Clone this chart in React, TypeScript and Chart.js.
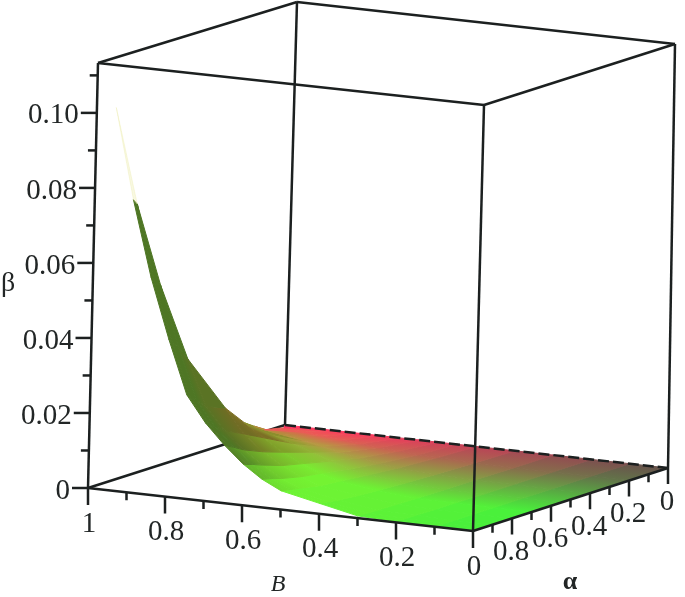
import React, { useEffect, useRef } from "react";
import Chart from "chart.js/auto";

// ---- data ----
const bColumns = [0, 0.1, 0.2, 0.3, 0.4, 0.5, 0.55, 0.6, 0.65, 0.7, 0.75, 0.8, 0.85, 0.9, 0.95, 1];
const alphaRows = [0, 0.2, 0.4, 0.55, 0.7, 0.8, 0.9, 0.95, 0.98, 1];
const betaRow000 = [0, 0, 0, 0, 0, 0, 0, 0, 0, 0, 0, 0, 0, 0, 0, 0];
const betaRow020 = [0, 0, 0, 0, 0.0002, 0.0004, 0.0006, 0.001, 0.0014, 0.0018, 0.0022, 0.0027, 0.0032, 0.0038];
const betaRow040 = [0, 0, 0, 0.0001, 0.0005, 0.001, 0.0016, 0.0025, 0.0035, 0.0045, 0.0055, 0.0064, 0.0072];
const betaRow055 = [0, 0, 0, 0.0001, 0.0008, 0.0017, 0.0027, 0.0042, 0.006, 0.0078, 0.0095, 0.0112];
const betaRow070 = [0, 0, 0.0001, 0.0002, 0.0012, 0.0025, 0.004, 0.006, 0.0085, 0.0118, 0.0152];
const betaRow080 = [0, 0, 0.0001, 0.0003, 0.0015, 0.003, 0.0048, 0.0072, 0.0103, 0.0145, 0.0208];
const betaRow090 = [0, 0, 0.0002, 0.0004, 0.002, 0.004, 0.006, 0.009, 0.0125, 0.017, 0.023, 0.035];
const betaRow095 = [0, 0, 0.0002, 0.0005, 0.0024, 0.0045, 0.0068, 0.01, 0.014, 0.019, 0.0255, 0.039, 0.055];
const betaRow098 = [0, 0, 0.0002, 0.0006, 0.0026, 0.0048, 0.0072, 0.0105, 0.0148, 0.02, 0.0266, 0.0405, 0.056, 0.0765];
const betaRow100 = [0, 0, 0.0002, 0.0006, 0.0028, 0.005, 0.0075, 0.011, 0.0155, 0.0208, 0.0277, 0.042, 0.058, 0.078, 0.102];
const betaRows = [betaRow000, betaRow020, betaRow040, betaRow055, betaRow070, betaRow080, betaRow090, betaRow095, betaRow098, betaRow100];

const betaMajor = [0, 0.02, 0.04, 0.06, 0.08, 0.1];
const betaMajorLabels = ["0", "0.02", "0.04", "0.06", "0.08", "0.10"];
const betaMinor = [0.01, 0.03, 0.05, 0.07, 0.09, 0.11];
const bMajor = [1, 0.8, 0.6, 0.4, 0.2, 0];
const bMajorLabels = ["1", "0.8", "0.6", "0.4", "0.2", "0"];
const bMinor = [0.9, 0.7, 0.5, 0.3, 0.1];
const alphaMajor = [0, 0.2, 0.4, 0.6, 0.8];
const alphaMajorLabels = ["0", "0.2", "0.4", "0.6", "0.8"];
const alphaMinor = [0.1, 0.3, 0.5, 0.7, 0.9];
const betaTop = 0.1133;

// ---- camera: the box corners on the page ----
const cam = {
  b11: [88, 488], t11: [98, 63],     // B=1, alpha=1
  b01: [473, 531], t01: [484, 105],  // B=0, alpha=1
  b00: [668, 468], t00: [675, 44],   // B=0, alpha=0
  b10: [285, 425], t10: [297, 2],    // B=1, alpha=0
};
type P = { x: number; y: number };
function project(B: number, al: number, be: number): P {
  const w = be / betaTop;
  const f = (i: number) => {
    const bottom =
      cam.b11[i] * B * al + cam.b01[i] * (1 - B) * al + cam.b00[i] * (1 - B) * (1 - al) + cam.b10[i] * B * (1 - al);
    const top =
      cam.t11[i] * B * al + cam.t01[i] * (1 - B) * al + cam.t00[i] * (1 - B) * (1 - al) + cam.t10[i] * B * (1 - al);
    return bottom + (top - bottom) * w;
  };
  return { x: f(0), y: f(1) };
}

const mix = (a: number, b: number, t: number) => a + (b - a) * t;
const clamp01 = (v: number) => Math.min(1, Math.max(0, v));
type RGBA = [number, number, number, number];
function surfaceColor(B: number, al: number, be: number): RGBA {
  const k = Math.min(1, B / 0.8);
  const g = clamp01((al - 0.08) / 0.62);
  let r = mix(mix(95, 255, k), mix(70, 140, k), g);
  let gr = mix(mix(85, 55, k), mix(240, 245, k), g);
  let bl = mix(mix(75, 95, k), mix(60, 45, k), g);
  const t = clamp01((be - 0.0045) / 0.0095);
  const dark = clamp01((al - 0.75) / 0.2);
  r = mix(r, mix(125, 78, dark), t);
  gr = mix(gr, mix(105, 118, dark), t);
  bl = mix(bl, 36, t);
  if (be > 0.08) return [235, 235, 170, 0.35];
  return [r, gr, bl, 1];
}
const css = (c: RGBA) => `rgba(${Math.round(c[0])},${Math.round(c[1])},${Math.round(c[2])},${c[3]})`;

function gradientFill(from: P, to: P, c0: RGBA, c1: RGBA) {
  return (ctx: any) => {
    // The hidden axes span the whole canvas, one unit to one pixel.
    const g = ctx.chart.ctx.createLinearGradient(from.x, from.y, to.x, to.y);
    g.addColorStop(0, css(c0));
    g.addColorStop(1, css(c1));
    return g;
  };
}

// The gradient axis is set square to the row edge, so that neighbouring cells meet with the same shade.
function squareTo(a: P, b: P, from: P, to: P): P {
  const ex = b.x - a.x, ey = b.y - a.y;
  const len = Math.hypot(ex, ey) || 1;
  const nx = -ey / len, ny = ex / len;
  const d = (to.x - from.x) * nx + (to.y - from.y) * ny;
  return { x: from.x + nx * d, y: from.y + ny * d };
}

function buildSurface(): any[] {
  const out: any[] = [];
  const patch = (pts: P[], from: P, to: P, c0: RGBA, c1: RGBA) => {
    const fill = gradientFill(from, to, c0, c1);
    out.push({
      data: [...pts, pts[0]],
      showLine: true,
      fill: "shape",
      backgroundColor: fill,
      borderColor: fill,
      borderWidth: 1,
      pointRadius: 0,
      order: 50,
    });
  };
  for (let j = 0; j < alphaRows.length - 1; j++) {
    const a0 = alphaRows[j], a1 = alphaRows[j + 1];
    const r0 = betaRows[j], r1 = betaRows[j + 1];
    const shared = Math.min(r0.length, r1.length);
    const v0 = (i: number) => project(bColumns[i], a0, r0[i]);
    const v1 = (i: number) => project(bColumns[i], a1, r1[i]);
    const longer = r0.length > r1.length ? v0 : v1;
    const longRow = r0.length > r1.length ? r0 : r1;
    const longA = r0.length > r1.length ? a0 : a1;
    const apex = r0.length > r1.length ? v1(shared - 1) : v0(shared - 1);
    for (let i = longRow.length - 2; i >= shared - 1; i--) {
      const bm = (bColumns[i] + bColumns[i + 1]) / 2;
      const be = (longRow[i] + longRow[i + 1]) / 2;
      const c = surfaceColor(bm, longA, be);
      patch([apex, longer(i), longer(i + 1)], apex, longer(i), c, c);
    }
    for (let i = shared - 2; i >= 0; i--) {
      const bm = (bColumns[i] + bColumns[i + 1]) / 2;
      const from = project(bm, a0, (r0[i] + r0[i + 1]) / 2);
      const to = project(bm, a1, (r1[i] + r1[i + 1]) / 2);
      const c0 = surfaceColor(bm, a0, (r0[i] + r0[i + 1]) / 2);
      const c1 = surfaceColor(bm, a1, (r1[i] + r1[i + 1]) / 2);
      patch([v0(i), v0(i + 1), v1(i + 1), v1(i)], from, squareTo(v0(i), v0(i + 1), from, to), c0, c1);
    }
  }
  return out;
}

function seg(a: P, b: P, order: number, dash?: number[]) {
  return {
    data: [a, b],
    showLine: true,
    fill: false,
    borderColor: "#1c2020",
    borderWidth: 2.5,
    borderDash: dash ?? [],
    pointRadius: 0,
    order,
  };
}

function buildFrame(): any[] {
  const BACK = 90, FRONT = 5;
  const c = (B: number, al: number, top: boolean) => project(B, al, top ? betaTop : 0);
  const out = [
    seg(c(1, 0, false), c(1, 1, false), BACK),
    seg(c(1, 0, false), c(0, 0, false), FRONT, [11, 4]),
    seg(c(1, 0, false), c(1, 0, true), BACK),
    seg(c(1, 1, false), c(0, 1, false), FRONT),
    seg(c(0, 1, false), c(0, 0, false), FRONT),
    seg(c(1, 1, false), c(1, 1, true), BACK),
    seg(c(0, 1, false), c(0, 1, true), FRONT),
    seg(c(0, 0, false), c(0, 0, true), BACK),
    seg(c(1, 1, true), c(0, 1, true), BACK),
    seg(c(0, 1, true), c(0, 0, true), BACK),
    seg(c(0, 0, true), c(1, 0, true), BACK),
    seg(c(1, 0, true), c(1, 1, true), BACK),
  ];
  const tickBeta = (v: number, len: number) => {
    const p = project(1, 1, v);
    out.push(seg(p, { x: p.x - len, y: p.y }, FRONT));
  };
  betaMajor.forEach((v) => tickBeta(v, 16));
  betaMinor.forEach((v) => tickBeta(v, 8));
  const tickB = (v: number, len: number) => {
    const p = project(v, 1, 0);
    out.push(seg(p, { x: p.x, y: p.y + len }, FRONT));
  };
  bMajor.forEach((v) => tickB(v, 17));
  bMinor.forEach((v) => tickB(v, 8));
  const tickA = (v: number, len: number) => {
    const p = project(0, v, 0);
    out.push(seg(p, { x: p.x, y: p.y + len }, FRONT));
  };
  alphaMajor.forEach((v) => tickA(v, 16));
  alphaMinor.forEach((v) => tickA(v, 8));
  return out;
}

const textPlugin = {
  id: "boxText",
  afterDatasetsDraw(chart: any) {
    const g = chart.ctx;
    g.save();
    g.fillStyle = "#222626";
    g.textBaseline = "middle";
    const font = '29px "Liberation Serif"';
    const put = (s: string, x: number, y: number, f: string, align: CanvasTextAlign) => {
      g.font = f;
      g.textAlign = align;
      g.fillText(s, x, y);
    };
    betaMajor.forEach((v, i) => {
      const p = project(1, 1, v);
      put(betaMajorLabels[i], p.x - 18, p.y + 3, font, "right");
    });
    bMajor.forEach((v, i) => {
      const p = project(v, 1, 0);
      put(bMajorLabels[i], p.x + 1, p.y + 36, font, "center");
    });
    alphaMajor.forEach((v, i) => {
      const p = project(0, v, 0);
      put(alphaMajorLabels[i], p.x - 1, p.y + 34, font, "center");
    });
    put("β", 8, 284, '28px "Liberation Serif"', "center");
    put("B", 278, 585, 'italic 24px "Liberation Serif"', "center");
    put("α", 570, 582, 'bold 26px "Liberation Serif"', "center");
    g.restore();
  },
};

export default function App() {
  const ref = useRef<HTMLCanvasElement>(null);
  useEffect(() => {
    document.body.style.margin = "0";
    const chart = new Chart(ref.current!, {
      type: "scatter",
      data: { datasets: [...buildFrame(), ...buildSurface()] },
      options: {
        animation: false,
        responsive: false,
        layout: { padding: 0 },
        plugins: { legend: { display: false }, tooltip: { enabled: false }, title: { display: false } },
        scales: {
          x: { type: "linear", min: 0, max: 685, display: false },
          y: { type: "linear", min: 0, max: 597, reverse: true, display: false },
        },
        elements: { line: { tension: 0 } },
      },
      plugins: [textPlugin],
    } as any);
    return () => chart.destroy();
  }, []);
  return <canvas ref={ref} width={685} height={597} style={{ display: "block", width: 685, height: 597 }} />;
}
